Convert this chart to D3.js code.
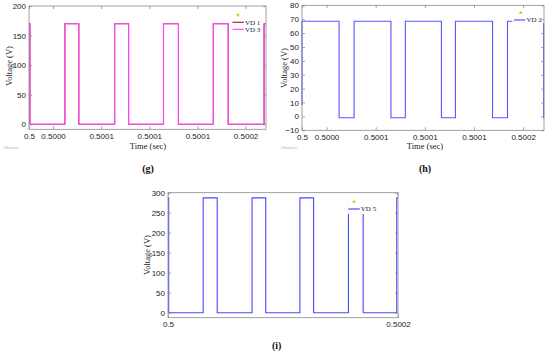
<!DOCTYPE html>
<html>
<head>
<meta charset="utf-8">
<script src="https://cdn.jsdelivr.net/npm/d3@7"></script>
<style>
  body { margin: 0; background: #fff; }
  svg { display: block; }
</style>
</head>
<body>
<div id="container"></div>
<script>
// time axis ticks (g and h share them)
const ghTickValues = [0.5, 0.50002, 0.50006, 0.5001, 0.50014, 0.50018];
const ghTickLabels = ['0.5', '0.5000', '0.5001', '0.5001', '0.5001', '0.5002'];
const iTickValues = [0.5, 0.5002];
const iTickLabels = ['0.5', '0.5002'];

const gYTicks = [0, 50, 100, 150, 200];
const hYTicks = [-10, 0, 10, 20, 30, 40, 50, 60, 70, 80];
const iYTicks = [0, 50, 100, 150, 200, 250, 300];

// switching edges (sec) and level held after each edge (V)
const vd13Time = [0.5, 0.5000008, 0.5000298, 0.5000414, 0.5000712, 0.5000828, 0.5001118, 0.5001242, 0.5001532, 0.5001656, 0.5001954, 0.500197];
const vd13Volt = [170, 0, 170, 0, 170, 0, 170, 0, 170, 0, 170, 170];

const vd2Time = [0.5, 0.5, 0.5000302, 0.5000424, 0.5000724, 0.5000841, 0.5001135, 0.5001249, 0.5001551, 0.5001673, 0.5001967, 0.500197];
const vd2Volt = [8, 68.5, -1, 68.5, -1, 68.5, -1, 68.5, -1, 68.5, -1, -1];

const vd5Time = [0.5, 0.5000006, 0.5000306, 0.5000428, 0.5000731, 0.500085, 0.5001147, 0.5001266, 0.5001569, 0.5001697, 0.5001989, 0.5002];
const vd5Volt = [287, 0, 287, 0, 287, 0, 287, 0, 287, 0, 287, 287];

const serif = "'Liberation Serif', 'Times New Roman', serif";

const svg = d3.select('#container')
    .append('svg')
    .attr('width', 550)
    .attr('height', 353)
    .attr('font-family', serif);

const drawPanel = (p) => {
    const x = d3.scaleLinear().domain(p.xDomain).range(p.xRange);
    const y = d3.scaleLinear().domain(p.yDomain).range(p.yRange);
    const g = svg.append('g');

    const line = d3.line()
        .x(d => x(d[0]))
        .y(d => y(d[1]))
        .curve(d3.curveStepAfter);

    p.series.forEach(s => {
        g.append('path')
            .datum(s.time.map((t, i) => [t, s.volt[i]]))
            .attr('d', line)
            .attr('fill', 'none')
            .attr('stroke', s.color)
            .attr('stroke-width', 1.1);
    });

    // legend (white background over the trace)
    const lg = p.legend;
    g.append('rect')
        .attr('x', lg.box[0]).attr('y', lg.box[1])
        .attr('width', lg.box[2]).attr('height', lg.box[3])
        .attr('fill', '#fff');
    lg.items.forEach((it, i) => {
        const ly = lg.y + i * 7;
        g.append('line')
            .attr('x1', lg.x).attr('x2', lg.x + 11.5)
            .attr('y1', ly).attr('y2', ly)
            .attr('stroke', it.color)
            .attr('stroke-width', 1.2);
        g.append('text')
            .attr('x', lg.x + 12.5).attr('y', ly)
            .attr('dy', '0.33em')
            .attr('font-size', '7px')
            .attr('fill', '#222')
            .text(it.name);
    });
    g.append('path')
        .attr('d', d3.symbol(d3.symbolStar, 6)())
        .attr('transform', `translate(${lg.star[0]}, ${lg.star[1]})`)
        .attr('fill', '#d9c400');

    // axes box
    const x0 = p.xRange[0], x1 = p.xRange[1];
    const y0 = p.yRange[1], y1 = p.yRange[0];
    g.append('rect')
        .attr('x', x0).attr('y', y0)
        .attr('width', x1 - x0).attr('height', y1 - y0)
        .attr('fill', 'none')
        .attr('stroke', '#8a8a8a')
        .attr('stroke-width', 0.8);

    const styleAxis = (sel, showText) => {
        sel.select('.domain').remove();
        sel.selectAll('.tick line').attr('stroke', '#8a8a8a').attr('stroke-width', 0.8);
        sel.selectAll('.tick text')
            .attr('font-size', '8px')
            .attr('fill', '#222')
            .attr('display', showText ? null : 'none');
    };

    const fmt = (d, i) => p.xTickLabels[i];
    g.append('g')
        .attr('transform', `translate(0, ${y1})`)
        .call(d3.axisBottom(x).tickValues(p.xTicks).tickFormat(fmt).tickSizeInner(-3).tickSizeOuter(0).tickPadding(4))
        .call(s => styleAxis(s, true));
    g.append('g')
        .attr('transform', `translate(0, ${y0})`)
        .call(d3.axisTop(x).tickValues(p.xTicks).tickSizeInner(-3).tickSizeOuter(0))
        .call(s => styleAxis(s, false));
    g.append('g')
        .attr('transform', `translate(${x0}, 0)`)
        .call(d3.axisLeft(y).tickValues(p.yTicks).tickSizeInner(-3).tickSizeOuter(0).tickPadding(3))
        .call(s => styleAxis(s, true));
    g.append('g')
        .attr('transform', `translate(${x1}, 0)`)
        .call(d3.axisRight(y).tickValues(p.yTicks).tickSizeInner(-3).tickSizeOuter(0))
        .call(s => styleAxis(s, false));

    // labels
    g.append('text')
        .attr('transform', `translate(${p.yLabel[0]}, ${p.yLabel[1]}) rotate(-90)`)
        .attr('text-anchor', 'middle')
        .attr('dy', '0.35em')
        .attr('font-size', '8.5px')
        .attr('fill', '#222')
        .text('Voltage (V)');
    if (p.xLabel) {
        g.append('text')
            .attr('x', p.xLabel[0]).attr('y', p.xLabel[1])
            .attr('text-anchor', 'middle')
            .attr('dy', '0.35em')
            .attr('font-size', '8.5px')
            .attr('fill', '#222')
            .text('Time (sec)');
    }
    if (p.offset) {
        g.append('text')
            .attr('x', p.offset[0]).attr('y', p.offset[1])
            .attr('dy', '0.35em')
            .attr('font-size', '3.5px')
            .attr('font-family', 'DejaVu Sans, sans-serif')
            .attr('fill', '#b5b5b5')
            .text('Offset=0');
    }
    g.append('text')
        .attr('x', p.caption[0]).attr('y', p.caption[1])
        .attr('text-anchor', 'middle')
        .attr('dy', '0.35em')
        .attr('font-size', '10px')
        .attr('font-weight', 'bold')
        .attr('fill', '#111')
        .text(p.caption[2]);
};

drawPanel({
    xDomain: [0.5, 0.500197], xRange: [29, 266],
    yDomain: [-8.5, 200], yRange: [129.3, 6],
    xTicks: ghTickValues, xTickLabels: ghTickLabels, yTicks: gYTicks,
    series: [
        { time: vd13Time, volt: vd13Volt, color: '#c01a3c' },
        { time: vd13Time, volt: vd13Volt, color: '#ff4cff' }
    ],
    legend: {
        box: [231, 10, 32, 23], x: 232.5, y: 22.3, star: [238, 15],
        items: [{ name: 'VD 1', color: '#c01a3c' }, { name: 'VD 3', color: '#ff4cff' }]
    },
    yLabel: [9, 66], xLabel: [148, 146], offset: [3, 148], caption: [148, 168, '(g)']
});

drawPanel({
    xDomain: [0.5, 0.500197], xRange: [302, 544],
    yDomain: [-10, 80], yRange: [130.3, 5.3],
    xTicks: ghTickValues, xTickLabels: ghTickLabels, yTicks: hYTicks,
    series: [{ time: vd2Time, volt: vd2Volt, color: '#5656ff' }],
    legend: {
        box: [512.5, 8, 36, 15], x: 514, y: 20, star: [520.7, 12.7],
        items: [{ name: 'VD 2', color: '#5656ff' }]
    },
    yLabel: [284, 68], xLabel: [425, 146], offset: [281, 148], caption: [425, 168, '(h)']
});

drawPanel({
    xDomain: [0.5, 0.5002], xRange: [168, 398],
    yDomain: [-12.5, 300], yRange: [317.7, 192.7],
    xTicks: iTickValues, xTickLabels: iTickLabels, yTicks: iYTicks,
    series: [{ time: vd5Time, volt: vd5Volt, color: '#4a4aff' }],
    legend: {
        box: [347.5, 196, 32, 18], x: 348.3, y: 209, star: [354, 201.7],
        items: [{ name: 'VD 5', color: '#4a4aff' }]
    },
    yLabel: [147, 255], xLabel: null, offset: null, caption: [276.7, 345.7, '(i)']
});
</script>
</body>
</html>
